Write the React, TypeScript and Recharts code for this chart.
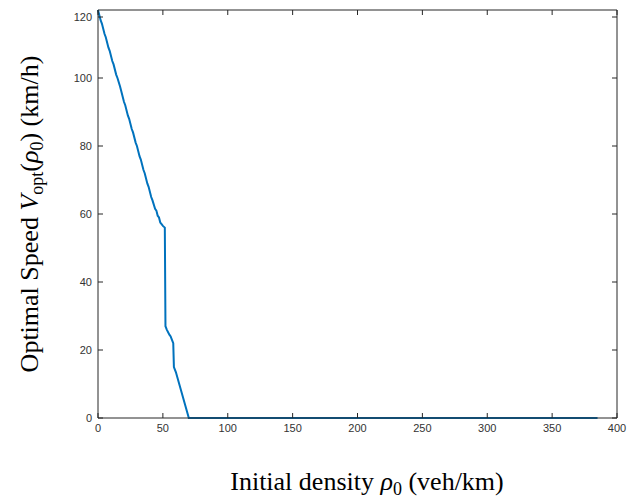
import { LineChart, Line, XAxis, YAxis, ReferenceLine } from 'recharts'

const density = [0, 2, 3, 5, 6, 8, 9, 11, 12, 14, 15, 17, 18, 20, 21, 23, 24, 26, 27, 29, 30, 32, 33, 35, 36, 38, 39, 41, 42, 44, 45, 46, 47, 48, 49, 50, 51.5, 52, 53, 55, 56, 57, 58, 58.5, 60, 70, 385]
const speed = [120, 117, 116, 113, 112, 109, 108, 105, 104, 101, 100, 97.5, 96, 93, 92, 89, 88, 85, 84, 81, 80, 77, 76, 73, 72, 69, 68, 65, 64, 61.5, 61, 59.5, 59, 57.5, 57, 56.5, 56, 27, 26, 24.5, 24, 23, 22, 15, 13.5, 0, 0]

const xTicks = [0, 50, 100, 150, 200, 250, 300, 350, 400]
const yTicks = [0, 20, 40, 60, 80, 100, 120]

const data = density.map((d, i) => ({ rho: d, v: speed[i] }))

const W = 633
const H = 493
const margin = { top: 2, right: 24, bottom: 53, left: 0 }
const plotTop = margin.top
const plotRight = W - margin.right
const gap = 6
const tickLen = 5

const axisColor = '#262626'
const serif = '"Liberation Serif", "DejaVu Serif", serif'

// MATLAB-style inward ticks on both sides of the box
const XTick = ({ x, y, payload }: any) => (
  <g>
    <line x1={x} x2={x} y1={y - gap} y2={y - gap - tickLen} stroke={axisColor} />
    <line x1={x} x2={x} y1={plotTop} y2={plotTop + tickLen} stroke={axisColor} />
    <text x={x} y={y} dy="0.71em" textAnchor="middle" fill="#333" fontSize={11}>
      {payload.value}
    </text>
  </g>
)

const YTick = ({ x, y, payload }: any) => (
  <g>
    <line x1={x + gap} x2={x + gap + tickLen} y1={y} y2={y} stroke={axisColor} />
    <line x1={plotRight} x2={plotRight - tickLen} y1={y} y2={y} stroke={axisColor} />
    <text x={x} y={y} dy="0.355em" textAnchor="end" fill="#333" fontSize={11}>
      {payload.value}
    </text>
  </g>
)

export default function App() {
  return (
    <LineChart
      width={W}
      height={H}
      data={data}
      margin={margin}
      style={{ fontFamily: 'Liberation Sans, Arial, sans-serif' }}
    >
      <XAxis
        dataKey="rho"
        type="number"
        domain={[0, 400]}
        ticks={xTicks}
        tickLine={false}
        tickSize={0}
        tickMargin={gap}
        height={30}
        axisLine={{ stroke: axisColor }}
        tick={<XTick />}
        label={{
          content: () => (
            <text x={359} y={482} textAnchor="middle" fontFamily={serif} fontSize={26} fill="#000">
              Initial density <tspan fontStyle="italic">ρ</tspan>
              <tspan fontSize={18} dy={5}>0</tspan>
              <tspan dy={-5}> (veh/km)</tspan>
            </text>
          ),
        }}
      />
      <YAxis
        type="number"
        domain={[0, 120]}
        ticks={yTicks}
        width={90}
        tickLine={false}
        tickSize={0}
        tickMargin={gap}
        axisLine={{ stroke: axisColor }}
        tick={<YTick />}
        label={{
          content: () => (
            <text x={0} y={0} transform="translate(30,206) rotate(-90)" textAnchor="middle" fontFamily={serif} fontSize={26} fill="#000">
              Optimal Speed <tspan fontStyle="italic">V</tspan>
              <tspan fontSize={18} dy={5}>opt</tspan>
              <tspan dy={-5}>(</tspan>
              <tspan fontStyle="italic">ρ</tspan>
              <tspan fontSize={18} dy={5}>0</tspan>
              <tspan dy={-5}>)  (km/h)</tspan>
            </text>
          ),
        }}
      />
      <ReferenceLine y={120} stroke={axisColor} ifOverflow="visible" />
      <ReferenceLine x={400} stroke={axisColor} ifOverflow="visible" />
      <Line
        dataKey="v"
        type="linear"
        stroke="#0072BD"
        strokeWidth={2}
        dot={false}
        isAnimationActive={false}
      />
    </LineChart>
  )
}
